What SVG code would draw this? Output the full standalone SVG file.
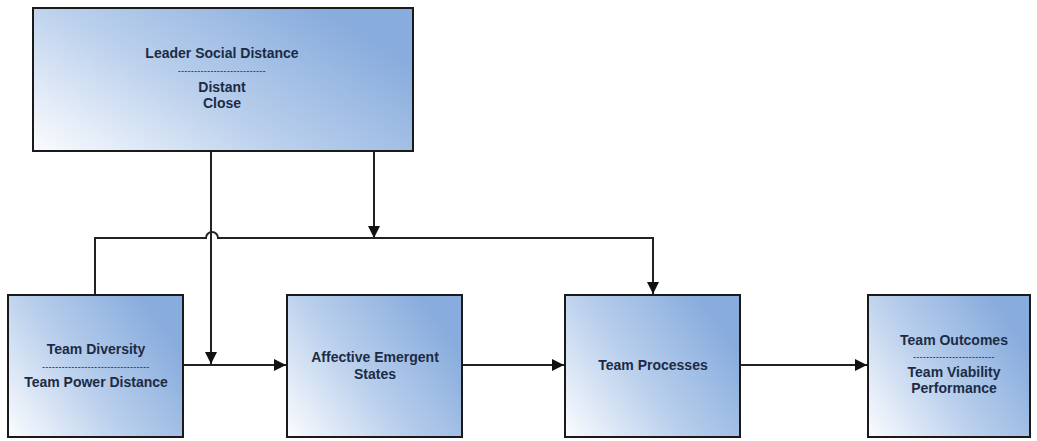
<svg xmlns="http://www.w3.org/2000/svg" width="1037" height="441" viewBox="0 0 1037 441">
<defs>
<linearGradient id="g" x1="0" y1="1" x2="1" y2="0.4">
<stop offset="0" stop-color="#fbfcfe"/>
<stop offset="0.5" stop-color="#b9cfec"/>
<stop offset="1" stop-color="#88acdd"/>
</linearGradient>
<marker id="ah" viewBox="0 0 12 12" refX="12" refY="6" markerWidth="12" markerHeight="12" markerUnits="userSpaceOnUse" orient="auto">
<path d="M0,0 L12,6 L0,12 z" fill="#111"/>
</marker>
<style>
.box{fill:url(#g);stroke:#1a1a1a;stroke-width:2}
.t{font-family:"Liberation Sans",Arial,sans-serif;font-weight:bold;font-size:14px;fill:#1c2b45;text-anchor:middle}
.d{font-family:"Liberation Sans",Arial,sans-serif;font-weight:bold;font-size:8px;fill:#2a3a58;text-anchor:middle;letter-spacing:0.6px}
.c{fill:none;stroke:#222;stroke-width:2}
</style>
</defs>
<g id="connectors">
<path class="c" d="M95,295 V238 H206 A6,6 0 0 1 218,238 H653 V294" marker-end="url(#ah)"/>
<path class="c" d="M211,152 V364" marker-end="url(#ah)"/>
<path class="c" d="M374,152 V238" marker-end="url(#ah)"/>
<path class="c" d="M183,365 H286" marker-end="url(#ah)"/>
<path class="c" d="M462,365 H564" marker-end="url(#ah)"/>
<path class="c" d="M740,365 H867" marker-end="url(#ah)"/>
</g>
<g id="leader">
<rect class="box" x="33" y="8" width="380" height="143"/>
<text class="t" x="222" y="58">Leader Social Distance</text>
<text class="d" x="222" y="73">---------------------------</text>
<text class="t" x="222" y="92">Distant</text>
<text class="t" x="222" y="108">Close</text>
</g>
<g id="diversity">
<rect class="box" x="8" y="295" width="175" height="142"/>
<text class="t" x="96" y="354">Team Diversity</text>
<text class="d" x="96" y="369">---------------------------------</text>
<text class="t" x="96" y="387">Team Power Distance</text>
</g>
<g id="affective">
<rect class="box" x="287" y="295" width="175" height="142"/>
<text class="t" x="375" y="362">Affective Emergent</text>
<text class="t" x="375" y="379">States</text>
</g>
<g id="processes">
<rect class="box" x="565" y="295" width="175" height="142"/>
<text class="t" x="653" y="370">Team Processes</text>
</g>
<g id="outcomes">
<rect class="box" x="868" y="295" width="162" height="142"/>
<text class="t" x="954" y="345">Team Outcomes</text>
<text class="d" x="954" y="359">-------------------------</text>
<text class="t" x="954" y="377">Team Viability</text>
<text class="t" x="954" y="393">Performance</text>
</g>
</svg>
